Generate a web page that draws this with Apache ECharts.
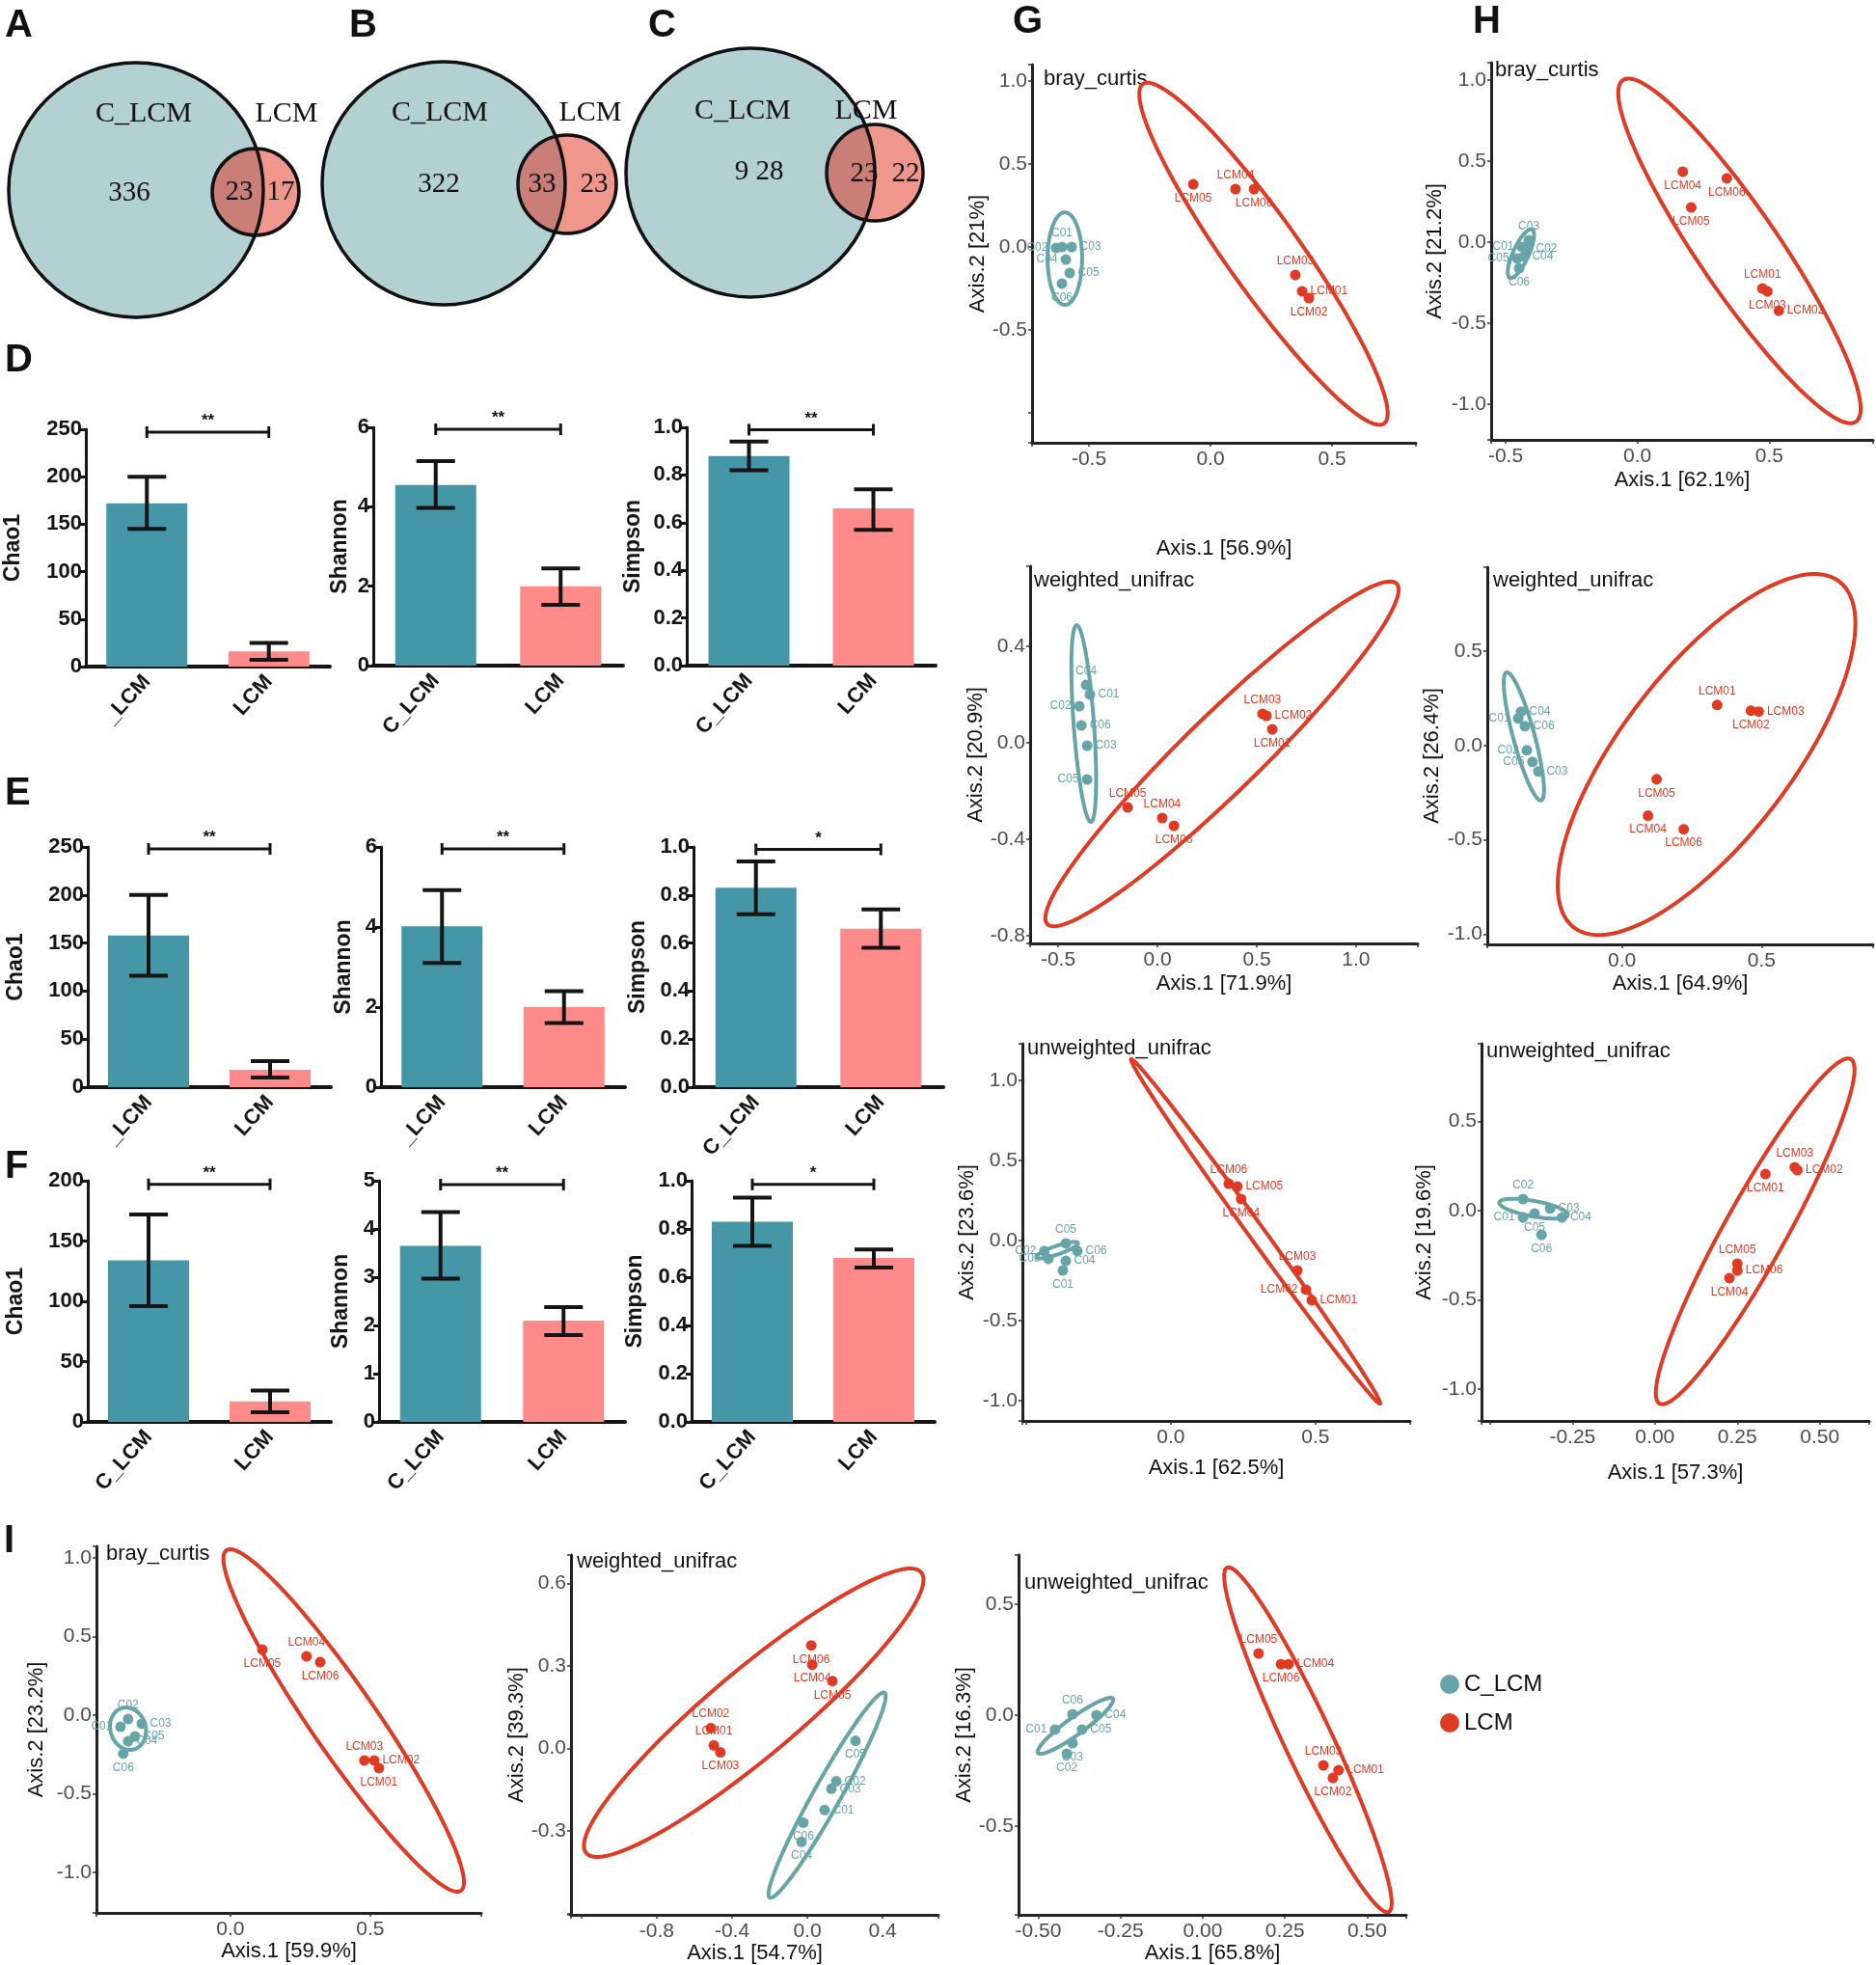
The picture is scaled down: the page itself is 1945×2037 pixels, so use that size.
<!DOCTYPE html>
<html><head><meta charset="utf-8">
<script src="https://cdn.jsdelivr.net/npm/echarts@6/dist/echarts.min.js"></script>
<style>html,body{margin:0;padding:0;background:#fff}#c{width:1945px;height:2037px}</style>
</head><body><div id="c"></div>
<script>
// ================= DATA =================
const vennNames = ['C_LCM', 'LCM'];
const vennA = ['336', '23', '17'];
const vennB = ['322', '33', '23'];
const vennC = ['9 28', '23', '22'];

const groups = ['C_LCM', 'LCM'];
const metrics = ['Chao1', 'Shannon', 'Simpson'];

const D_catLabels = [['_LCM', 'LCM'], ['C_LCM', 'LCM'], ['C_LCM', 'LCM']];
const D_mean = [[172, 16], [4.55, 2.0], [0.88, 0.66]];
const D_low  = [[145, 7], [3.97, 1.53], [0.82, 0.57]];
const D_high = [[200, 25], [5.15, 2.45], [0.94, 0.74]];
const D_sig  = ['**', '**', '**'];
const D_sigY = [247, 5.95, 0.99];

const E_catLabels = [['_LCM', 'LCM'], ['_LCM', 'LCM'], ['C_LCM', 'LCM']];
const E_mean = [[158, 18], [4.02, 2.0], [0.83, 0.66]];
const E_low  = [[116, 10], [3.1, 1.6], [0.72, 0.58]];
const E_high = [[200, 27], [4.92, 2.4], [0.94, 0.74]];
const E_sig  = ['**', '**', '*'];
const E_sigY = [248, 5.95, 0.99];

const F_catLabels = [['C_LCM', 'LCM'], ['C_LCM', 'LCM'], ['C_LCM', 'LCM']];
const F_mean = [[134, 17], [3.65, 2.1], [0.83, 0.68]];
const F_low  = [[96, 8], [2.97, 1.8], [0.73, 0.64]];
const F_high = [[172, 26], [4.35, 2.38], [0.93, 0.715]];
const F_sig  = ['**', '**', '*'];
const F_sigY = [197, 4.92, 0.985];

// PCoA points [axis1, axis2, sample]
const G1_ctrl = [[-0.611,0.0,'C01'],[-0.635,-0.006,'C02'],[-0.571,0.0,'C03'],[-0.595,-0.076,'C04'],[-0.579,-0.157,'C05'],[-0.611,-0.221,'C06']];
const G1_lcm  = [[0.377,-0.267,'LCM01'],[0.405,-0.308,'LCM02'],[0.349,-0.169,'LCM03'],[0.103,0.349,'LCM04'],[-0.071,0.378,'LCM05'],[0.179,0.349,'LCM06']];
const G1_ctrlEll = [-0.599,-0.070, 0,-0.279, 0.071,0];
const G1_lcmEll  = [0.218,-0.041, 0.496,-1.023, 0.123,0.128];

const H1_ctrl = [[-0.438,-0.030,'C01'],[-0.416,-0.042,'C02'],[-0.412,0.012,'C03'],[-0.431,-0.089,'C04'],[-0.456,-0.101,'C05'],[-0.449,-0.161,'C06']];
const H1_lcm  = [[0.474,-0.286,'LCM01'],[0.536,-0.423,'LCM02'],[0.493,-0.304,'LCM03'],[0.172,0.435,'LCM04'],[0.204,0.214,'LCM05'],[0.339,0.393,'LCM06']];
const H1_ctrlEll = [-0.442,-0.071, 0.042,0.149, 0.027,-0.020];
const H1_lcmEll  = [0.387,-0.054, 0.442,-1.054, 0.127,0.141];

const G2_ctrl = [[-0.340,0.2,'C01'],[-0.393,0.152,'C02'],[-0.354,-0.012,'C03'],[-0.359,0.24,'C04'],[-0.354,-0.152,'C05'],[-0.383,0.072,'C06']];
const G2_lcm  = [[0.578,0.056,'LCM01'],[0.549,0.112,'LCM02'],[0.529,0.12,'LCM03'],[0.024,-0.312,'LCM04'],[-0.150,-0.268,'LCM05'],[0.083,-0.344,'LCM06']];
const G2_ctrlEll = [-0.371,0.08, 0.036,-0.408, 0.051,0.003];
const G2_lcmEll  = [0.325,-0.046, 0.879,0.706, 0.135,-0.114];

const H2_ctrl = [[-0.372,0.143,'C01'],[-0.341,-0.026,'C02'],[-0.3,-0.138,'C03'],[-0.362,0.179,'C04'],[-0.321,-0.087,'C05'],[-0.348,0.102,'C06']];
const H2_lcm  = [[0.341,0.214,'LCM01'],[0.462,0.184,'LCM02'],[0.490,0.179,'LCM03'],[0.093,-0.372,'LCM04'],[0.124,-0.179,'LCM05'],[0.221,-0.444,'LCM06']];
const H2_ctrlEll = [-0.352,0.048, 0.062,-0.339, 0.037,0.015];
const H2_lcmEll  = [0.303,-0.048, 0.476,0.916, 0.241,-0.274];

const G3_ctrl = [[-0.373,-0.187,'C01'],[-0.437,-0.066,'C02'],[-0.423,-0.114,'C03'],[-0.363,-0.127,'C04'],[-0.363,-0.018,'C05'],[-0.323,-0.066,'C06']];
const G3_lcm  = [[0.487,-0.373,'LCM01'],[0.467,-0.307,'LCM02'],[0.437,-0.187,'LCM03'],[0.243,0.259,'LCM04'],[0.23,0.337,'LCM05'],[0.2,0.355,'LCM06']];
const G3_ctrlEll = [-0.393,-0.06, 0.072,0.045, 0.005,-0.025];
const G3_lcmEll  = [0.293,0.057, 0.43,-1.075, 0.022,0.028];

const H3_ctrl = [[-0.4,-0.038,'C01'],[-0.4,0.065,'C02'],[-0.318,0.011,'C03'],[-0.282,-0.038,'C04'],[-0.365,-0.016,'C05'],[-0.344,-0.135,'C06']];
const H3_lcm  = [[0.335,0.205,'LCM01'],[0.432,0.227,'LCM02'],[0.424,0.243,'LCM03'],[0.226,-0.378,'LCM04'],[0.25,-0.297,'LCM05'],[0.25,-0.335,'LCM06']];
const H3_ctrlEll = [-0.368,0.011, 0.104,-0.035, -0.004,-0.043];
const H3_lcmEll  = [0.304,-0.116, 0.29,0.965, 0.082,-0.084];

const I1_ctrl = [[-0.393,-0.074,'C01'],[-0.366,-0.025,'C02'],[-0.317,-0.055,'C03'],[-0.366,-0.166,'C04'],[-0.341,-0.135,'C05'],[-0.383,-0.245,'C06']];
const I1_lcm  = [[0.531,-0.337,'LCM01'],[0.514,-0.288,'LCM02'],[0.479,-0.288,'LCM03'],[0.272,0.374,'LCM04'],[0.114,0.417,'LCM05'],[0.321,0.337,'LCM06']];
const I1_ctrlEll = [-0.366,-0.086, 0.007,-0.135, 0.064,0];
const I1_lcmEll  = [0.405,-0.034, 0.419,-1.083, 0.097,0.118];

const I2_ctrl = [[0.092,-0.224,'C01'],[0.154,-0.119,'C02'],[0.128,-0.147,'C03'],[-0.031,-0.340,'C04'],[0.256,0.028,'C05'],[-0.021,-0.270,'C06']];
const I2_lcm  = [[-0.497,0.011,'LCM01'],[-0.513,0.074,'LCM02'],[-0.462,-0.014,'LCM03'],[0.026,0.305,'LCM04'],[0.133,0.245,'LCM05'],[0.021,0.375,'LCM06']];
const I2_ctrlEll = [0.105,-0.17, 0.305,0.373, 0.063,-0.024];
const I2_lcmEll  = [-0.285,0.13, 0.89,0.511, 0.149,-0.12];

const I3_ctrl = [[-0.449,-0.065,'C01'],[-0.413,-0.174,'C02'],[-0.396,-0.126,'C03'],[-0.323,0,'C04'],[-0.367,-0.065,'C05'],[-0.396,0.004,'C06']];
const I3_lcm  = [[0.413,-0.248,'LCM01'],[0.396,-0.283,'LCM02'],[0.367,-0.226,'LCM03'],[0.261,0.23,'LCM04'],[0.17,0.278,'LCM05'],[0.238,0.23,'LCM06']];
const I3_ctrlEll = [-0.387,-0.048, 0.114,0.122, 0.015,-0.032];
const I3_lcmEll  = [0.32,-0.111, 0.246,-0.776, 0.066,0.047];

// ================= STYLE / LAYOUT =================
const SANS = '"Liberation Sans", Arial, Helvetica, sans-serif';
const SERIF = '"Liberation Serif", "Times New Roman", serif';
const TEAL = '#4597a8', PINK = '#ff8a8a';
const CT = '#67a4a8', CR = '#e03a24';
const barColors = [TEAL, PINK];

const vennGeom = [
  {big:[141,197,132], sm:[265,199,45], names:[[149,118],[297,118]], counts:[[134,200],[248,199],[291,199]]},
  {big:[460,190,126], sm:[588,191,51], names:[[456,117],[612,117]], counts:[[455,191],[562,191],[616,191]]},
  {big:[778,179,129], sm:[907,179,50], names:[[770,115],[898,115]], counts:[[787,178],[896,180],[939,180]]}
];
const vennCounts = [vennA, vennB, vennC];

// label placement per panel (ctrl C01..C06, LCM01..06)
const T='top', B='bottom', L='left', R='right';
const labelPlace = [
  {c:[T,L,R,L,R,B], l:[R,B,T,T,B,B]},
  {c:[L,R,T,R,L,B], l:[T,R,B,B,B,B]},
  {c:[R,L,R,T,L,R], l:[B,R,T,T,T,B]},
  {c:[L,L,R,R,L,R], l:[T,B,R,B,B,B]},
  {c:[B,L,L,R,T,R], l:[R,L,T,B,R,T]},
  {c:[L,T,R,R,B,B], l:[B,R,T,B,T,R]},
  {c:[L,T,R,R,R,B], l:[B,R,T,T,B,B]},
  {c:[R,R,R,B,B,B], l:[T,T,B,B,B,B]},
  {c:[L,B,B,R,R,T], l:[R,B,T,R,T,B]}
];

const grids = [], xAxes = [], yAxes = [], series = [], graphics = [];
function addGrid(l, t, w, h) { grids.push({left:l, top:t, width:w, height:h}); return grids.length - 1; }

// ---------- Venn ----------
(function(){
  const gi = addGrid(0, 0, 980, 340);
  const xi = xAxes.length; xAxes.push({type:'value', gridIndex:gi, min:0, max:980, show:false});
  const yi = yAxes.length; yAxes.push({type:'value', gridIndex:gi, min:0, max:340, inverse:true, show:false});
  series.push({
    type:'custom', xAxisIndex:xi, yAxisIndex:yi, clip:false, silent:true,
    data: vennCounts.map((c, i) => [i, 0]),
    renderItem: function(params, api){
      const g = vennGeom[params.dataIndex], cnt = vennCounts[params.dataIndex];
      const Bc = api.coord([g.big[0], g.big[1]]), rB = api.size([g.big[2], 0])[0];
      const S = api.coord([g.sm[0], g.sm[1]]), rS = api.size([g.sm[2], 0])[0];
      const d = Math.hypot(S[0]-Bc[0], S[1]-Bc[1]);
      const a = (rB*rB - rS*rS + d*d) / (2*d);
      const phi = Math.atan2(Bc[1]-S[1], Bc[0]-S[0]);
      const psi = phi + Math.PI;
      const d2 = Math.acos(Math.max(-1, Math.min(1, (d - a) / rS)));
      const d1 = Math.acos(Math.max(-1, Math.min(1, a / rB)));
      const lens = [];
      for (let k = 0; k <= 40; k++) { const t = phi - d2 + 2*d2*k/40; lens.push([S[0] + rS*Math.cos(t), S[1] + rS*Math.sin(t)]); }
      for (let k = 0; k <= 40; k++) { const t = psi - d1 + 2*d1*k/40; lens.push([Bc[0] + rB*Math.cos(t), Bc[1] + rB*Math.sin(t)]); }
      const txt = (s, p, size) => { const q = api.coord(p); return {type:'text', style:{text:s, x:q[0], y:q[1], align:'center', verticalAlign:'middle', textAlign:'center', textVerticalAlign:'middle', font: size + 'px ' + SERIF, fill:'#111'}}; };
      return {type:'group', children:[
        {type:'circle', shape:{cx:Bc[0], cy:Bc[1], r:rB}, style:{fill:'#b3d1d3', stroke:null}},
        {type:'circle', shape:{cx:S[0], cy:S[1], r:rS}, style:{fill:'#f0978d', stroke:null}},
        {type:'polygon', shape:{points:lens}, style:{fill:'#c97f78', stroke:null}},
        {type:'circle', shape:{cx:Bc[0], cy:Bc[1], r:rB}, style:{fill:'none', stroke:'#111', lineWidth:3.5}},
        {type:'circle', shape:{cx:S[0], cy:S[1], r:rS}, style:{fill:'none', stroke:'#111', lineWidth:3.5}},
        txt(vennNames[0], g.names[0], 30), txt(vennNames[1], g.names[1], 30),
        txt(cnt[0], g.counts[0], 29), txt(cnt[1], g.counts[1], 29), txt(cnt[2], g.counts[2], 29)
      ]};
    }
  });
})();

// ---------- Bars ----------
function errRender(params, api){
  const i = api.value(0);
  const lo = api.coord([i, api.value(1)]), hi = api.coord([i, api.value(2)]);
  const cap = 20, st = {stroke:'#151515', lineWidth:4};
  return {type:'group', children:[
    {type:'line', shape:{x1:lo[0], y1:lo[1], x2:hi[0], y2:hi[1]}, style:st},
    {type:'line', shape:{x1:lo[0]-cap, y1:lo[1], x2:lo[0]+cap, y2:lo[1]}, style:st},
    {type:'line', shape:{x1:hi[0]-cap, y1:hi[1], x2:hi[0]+cap, y2:hi[1]}, style:st}
  ]};
}
function bracketRender(sig){
  return function(params, api){
    const y = api.value(1);
    const a = api.coord([0, y]), b = api.coord([1, y]);
    const st = {stroke:'#151515', lineWidth:3};
    return {type:'group', children:[
      {type:'line', shape:{x1:a[0], y1:a[1], x2:b[0], y2:b[1]}, style:st},
      {type:'line', shape:{x1:a[0], y1:a[1]-6, x2:a[0], y2:a[1]+6}, style:st},
      {type:'line', shape:{x1:b[0], y1:b[1]-6, x2:b[0], y2:b[1]+6}, style:st},
      {type:'text', style:{text:sig, x:(a[0]+b[0])/2, y:a[1]-3, align:'center', verticalAlign:'bottom', textAlign:'center', textVerticalAlign:'bottom', font:'bold 17px ' + SANS, fill:'#151515'}}
    ]};
  };
}
function addBar(rect, catLabels, mean, low, high, sig, sigY, ymax, yint, ydec, yname, ygap){
  const gi = addGrid(rect[0], rect[1], rect[2], rect[3]);
  const xi = xAxes.length;
  xAxes.push({type:'category', gridIndex:gi, data:groups,
    axisLine:{lineStyle:{color:'#151515', width:4}},
    axisTick:{alignWithLabel:true, length:9, lineStyle:{color:'#151515', width:4}},
    axisLabel:{rotate:48, fontSize:22, fontWeight:'bold', color:'#151515', margin:12, fontFamily:SANS,
      formatter:(v, i) => catLabels[i]}});
  const yi = yAxes.length;
  yAxes.push({type:'value', gridIndex:gi, min:0, max:ymax, interval:yint,
    axisLine:{show:true, lineStyle:{color:'#151515', width:3}},
    axisTick:{show:true, length:6, lineStyle:{color:'#151515', width:3}},
    splitLine:{show:false},
    axisLabel:{fontSize:22, fontWeight:'bold', color:'#151515', margin:4, fontFamily:SANS, formatter:v => v.toFixed(ydec)},
    name:yname, nameLocation:'middle', nameGap:ygap,
    nameTextStyle:{fontSize:23, fontWeight:'bold', color:'#151515', fontFamily:SANS}});
  series.push({type:'bar', xAxisIndex:xi, yAxisIndex:yi, barWidth:84, silent:true,
    data: mean.map((v, i) => ({value:v, itemStyle:{color:barColors[i]}})), z:2});
  series.push({type:'custom', xAxisIndex:xi, yAxisIndex:yi, clip:false, silent:true, z:3,
    data: mean.map((v, i) => [i, low[i], high[i]]), renderItem: errRender});
  series.push({type:'custom', xAxisIndex:xi, yAxisIndex:yi, clip:false, silent:true, z:3,
    data: [[0, sigY]], renderItem: bracketRender(sig)});
}
const barRows = [
  {rects:[[89,445,253,246],[387,443,259,247],[712,443,258,247]], cats:D_catLabels, mean:D_mean, low:D_low, high:D_high, sig:D_sig, sigY:D_sigY, ymax:[250,6,1], yint:[50,2,0.2], gaps:[64,23,44]},
  {rects:[[91,878,252,249],[395,878,253,249],[719,878,259,249]], cats:E_catLabels, mean:E_mean, low:E_low, high:E_high, sig:E_sig, sigY:E_sigY, ymax:[250,6,1], yint:[50,2,0.2], gaps:[63,27,46]},
  {rects:[[91,1224,252,250],[393,1224,255,250],[717,1224,252,250]], cats:F_catLabels, mean:F_mean, low:F_low, high:F_high, sig:F_sig, sigY:F_sigY, ymax:[200,5,1], yint:[50,1,0.2], gaps:[63,28,47]}
];
barRows.forEach(r => {
  for (let m = 0; m < 3; m++) {
    addBar(r.rects[m], r.cats[m], r.mean[m], r.low[m], r.high[m], r.sig[m], r.sigY[m], r.ymax[m], r.yint[m], m === 2 ? 1 : 0, metrics[m], r.gaps[m]);
  }
});

// ---------- PCoA ----------
function tickFmt(v, interval, dec, hide){
  const k = v / interval;
  if (Math.abs(k - Math.round(k)) > 1e-6) return '';
  if (hide && hide.some(h => Math.abs(h - v) < 1e-6)) return '';
  let s = v.toFixed(dec);
  if (parseFloat(s) === 0) s = s.replace('-', '');
  return s;
}
function ellRender(color){
  return function(params, api){
    const cx = api.value(0), cy = api.value(1), mx = api.value(2), my = api.value(3), nx = api.value(4), ny = api.value(5);
    const pts = [];
    for (let k = 0; k < 120; k++) {
      const t = k / 120 * 2 * Math.PI;
      pts.push(api.coord([cx + Math.cos(t)*mx + Math.sin(t)*nx, cy + Math.cos(t)*my + Math.sin(t)*ny]));
    }
    return {type:'polygon', shape:{points:pts}, style:{fill:'none', stroke:color, lineWidth:4}};
  };
}
function addPcoa(p, idx){
  const place = labelPlace[idx];
  const gi = addGrid(p.rect[0], p.rect[1], p.rect[2], p.rect[3]);
  const xi = xAxes.length;
  xAxes.push({type:'value', gridIndex:gi, min:p.x[0], max:p.x[1], minInterval:p.x[2], maxInterval:p.x[2], splitNumber:4,
    axisLine:{onZero:false, lineStyle:{color:'#222', width:3}},
    axisTick:{length:4, lineStyle:{color:'#333', width:1.5}},
    splitLine:{show:false},
    axisLabel:{fontSize:21, color:'#4d4d4d', margin:7, fontFamily:SANS, formatter:v => tickFmt(v, p.x[2], p.x[3], p.xHide)},
    name:p.xName, nameLocation:'middle', nameGap:p.xGap, nameTextStyle:{fontSize:22, color:'#111', fontFamily:SANS}});
  const yi = yAxes.length;
  yAxes.push({type:'value', gridIndex:gi, min:p.y[0], max:p.y[1], minInterval:p.y[2], maxInterval:p.y[2], splitNumber:4,
    axisLine:{onZero:false, lineStyle:{color:'#222', width:3}},
    axisTick:{length:4, lineStyle:{color:'#333', width:1.5}},
    splitLine:{show:false},
    axisLabel:{fontSize:21, color:'#4d4d4d', margin:5, fontFamily:SANS, formatter:v => tickFmt(v, p.y[2], p.y[3], p.yHide)},
    name:p.yName, nameLocation:'middle', nameGap:p.yGap, nameTextStyle:{fontSize:22, color:'#111', fontFamily:SANS}});
  series.push({type:'custom', xAxisIndex:xi, yAxisIndex:yi, clip:false, silent:true, z:3, data:[p.CE], renderItem:ellRender(CT)});
  series.push({type:'custom', xAxisIndex:xi, yAxisIndex:yi, clip:false, silent:true, z:3, data:[p.LE], renderItem:ellRender(CR)});
  series.push({type:'scatter', name:'C_LCM', xAxisIndex:xi, yAxisIndex:yi, symbolSize:11, z:5, silent:true,
    data:p.C.map((d, i) => ({value:d, label:{position:place.c[i]}})),
    itemStyle:{color:CT, opacity:1},
    label:{show:true, position:'right', distance:3, fontSize:12, color:CT, fontFamily:SANS, formatter:d => d.value[2]}});
  series.push({type:'scatter', name:'LCM', xAxisIndex:xi, yAxisIndex:yi, symbolSize:11, z:5, silent:true,
    data:p.L.map((d, i) => ({value:d, label:{position:place.l[i]}})),
    itemStyle:{color:CR, opacity:1},
    label:{show:true, position:'right', distance:3, fontSize:12, color:CR, fontFamily:SANS, formatter:d => d.value[2]}});
  graphics.push({type:'text', left:p.title[1], top:p.title[2] - 12, style:{text:p.title[0], font:'22px ' + SANS, fill:'#111'}});
}
const pcoaPanels = [
  {rect:[1070,67,398,392], x:[-0.734,0.845,0.5,1], y:[-1.18,1.099,0.5,1], yHide:[-1.0], xName:'Axis.1 [56.9%]', xGap:99, yName:'Axis.2 [21%]', yGap:44, title:['bray_curtis',1082,83], C:G1_ctrl, L:G1_lcm, CE:G1_ctrlEll, LE:G1_lcmEll},
  {rect:[1546,65,397,391], x:[-0.555,0.894,0.5,1], y:[-1.22,1.107,0.5,1], xName:'Axis.1 [62.1%]', xGap:31, yName:'Axis.2 [21.2%]', yGap:47, title:['bray_curtis',1550,74], C:H1_ctrl, L:H1_lcm, CE:H1_ctrlEll, LE:H1_lcmEll},
  {rect:[1068,587,402,391], x:[-0.641,1.311,0.5,1], y:[-0.832,0.732,0.4,1], xName:'Axis.1 [71.9%]', xGap:31, yName:'Axis.2 [20.9%]', yGap:41, title:['weighted_unifrac',1072,603], C:G2_ctrl, L:G2_lcm, CE:G2_ctrlEll, LE:G2_lcmEll},
  {rect:[1542,588,401,391], x:[-0.483,0.9,0.5,1], y:[-1.054,0.944,0.5,1], xName:'Axis.1 [64.9%]', xGap:30, yName:'Axis.2 [26.4%]', yGap:46, title:['weighted_unifrac',1548,603], C:H2_ctrl, L:H2_lcm, CE:H2_ctrlEll, LE:H2_lcmEll},
  {rect:[1060,1082,402,391], x:[-0.513,0.827,0.5,1], xHide:[-0.5], y:[-1.127,1.229,0.5,1], xName:'Axis.1 [62.5%]', xGap:38, yName:'Axis.2 [23.6%]', yGap:46, title:['unweighted_unifrac',1065,1088], C:G3_ctrl, L:G3_lcm, CE:G3_ctrlEll, LE:G3_lcmEll},
  {rect:[1536,1082,402,391], x:[-0.526,0.65,0.25,2], xHide:[-0.5], y:[-1.178,0.935,0.5,1], xName:'Axis.1 [57.3%]', xGap:43, yName:'Axis.2 [19.6%]', yGap:48, title:['unweighted_unifrac',1541,1091], C:H3_ctrl, L:H3_lcm, CE:H3_ctrlEll, LE:H3_lcmEll},
  {rect:[100,1603,399,380], x:[-0.479,0.897,0.5,1], y:[-1.258,1.074,0.5,1], xName:'Axis.1 [59.9%]', xGap:29, yName:'Axis.2 [23.2%]', yGap:51, title:['bray_curtis',110,1612], C:I1_ctrl, L:I1_lcm, CE:I1_ctrlEll, LE:I1_lcmEll},
  {rect:[592,1612,381,374], x:[-1.256,0.697,0.4,1], xHide:[-1.2], y:[-0.606,0.704,0.3,1], yHide:[-0.6], xName:'Axis.1 [54.7%]', xGap:21, yName:'Axis.2 [39.3%]', yGap:43, title:['weighted_unifrac',598,1620], C:I2_ctrl, L:I2_lcm, CE:I2_ctrlEll, LE:I2_lcmEll},
  {rect:[1056,1612,402,373], x:[-0.56,0.619,0.25,2], y:[-0.9,0.722,0.5,1], xName:'Axis.1 [65.8%]', xGap:27, yName:'Axis.2 [16.3%]', yGap:38, title:['unweighted_unifrac',1062,1642], C:I3_ctrl, L:I3_lcm, CE:I3_ctrlEll, LE:I3_lcmEll}
];
pcoaPanels.forEach(addPcoa);

// ---------- Panel letters ----------
const letters = [['A',5,27],['B',362,27],['C',672,27],['D',5,374],['E',5,823],['F',5,1210],['G',1050,23],['H',1527,23],['I',4,1598]];
letters.forEach(l => graphics.push({type:'text', left:l[1], top:l[2] - 20, style:{text:l[0], font:'bold 40px ' + SANS, fill:'#111'}}));

const option = {
  backgroundColor:'#ffffff',
  animation:false,
  textStyle:{fontFamily:SANS},
  grid:grids, xAxis:xAxes, yAxis:yAxes, series:series,
  legend:{data:['C_LCM','LCM'], orient:'vertical', left:1488, top:1729, itemGap:16, icon:'circle', itemWidth:20, itemHeight:20,
    textStyle:{fontSize:24, color:'#111', fontFamily:SANS}, selectedMode:false},
  graphic:graphics
};
const chart = echarts.init(document.getElementById('c'), null, {width:1945, height:2037});
chart.setOption(option);
</script>
</body></html>
